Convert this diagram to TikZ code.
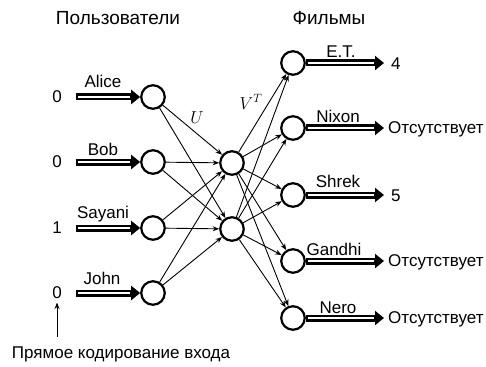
\documentclass[tikz,border=0pt]{standalone}
\usepackage{fontspec}
\setmainfont{Liberation Sans}
\usetikzlibrary{arrows.meta}
\begin{document}
\begin{tikzpicture}[x=1pt,y=-1pt,
  font=\fontsize{17}{19}\selectfont,
  neuron/.style={circle, draw, line width=2.2pt, minimum size=23.5pt, inner sep=0pt},
  conn/.style={line width=0.9pt, -{Stealth[length=6.5pt,width=5pt]}},
  dbl/.style={line width=7pt, -{Triangle[length=9pt,width=14pt]},
    postaction={draw=white, line width=2.2pt, arrows=-, shorten >=10pt, shorten <=2pt}},
  lbl/.style={anchor=base, inner sep=0pt},
  title/.style={font=\fontsize{19}{21}\selectfont},
  note/.style={font=\fontsize{17}{19}\selectfont}]
\useasboundingbox (0,0) rectangle (486,366);

% titles
\node[title] (t1) at (118,18) {Пользователи};
\node[title] (t2) at (329,18) {Фильмы};

% input neurons
\node[neuron] (in1) at (153,97) {};
\node[neuron] (in2) at (153,162) {};
\node[neuron] (in3) at (153,228) {};
\node[neuron] (in4) at (153,293) {};

% hidden neurons
\node[neuron] (h1) at (232,163) {};
\node[neuron] (h2) at (232,229) {};

% output neurons
\node[neuron] (o1) at (293,63) {};
\node[neuron] (o2) at (293,128) {};
\node[neuron] (o3) at (293,195) {};
\node[neuron] (o4) at (293,261) {};
\node[neuron] (o5) at (293,318) {};

% input values
\node (v1) at (57,97) {0};
\node (v2) at (57,162) {0};
\node (v3) at (57,228) {1};
\node (v4) at (57,293) {0};

% input double arrows
\foreach \i/\y in {1/97,2/162,3/228,4/293}{
  \coordinate (s\i) at (76,\y);
  \draw[dbl] (s\i) -- (in\i);
}
\node[lbl] (la) at (103,88) {Alice};
\node[lbl] (lb) at (103,155) {Bob};
\node[lbl] (ls) at (103,218) {Sayani};
\node[lbl] (lj) at (102,284) {John};

% connections
\foreach \i in {1,...,4}
  \foreach \j in {1,2}
    \draw[conn] (in\i) -- (h\j);
\foreach \j in {1,2}
  \foreach \k in {1,...,5}
    \draw[conn] (h\j) -- (o\k);

\node (U) at (197,118) {$U$};
\node (VT) at (251,102) {$V^T$};

% output double arrows
\foreach \k/\y in {1/63,2/128,3/195,4/261,5/318}{
  \coordinate (e\k) at (384,\y);
  \draw[dbl] (o\k) -- (e\k);
}
\node[lbl] (lo1) at (341,58) {E.T.};
\node[lbl] (lo2) at (338,123) {Nixon};
\node[lbl] (lo3) at (338,187) {Shrek};
\node[lbl] (lo4) at (334,255) {Gandhi};
\node[lbl] (lo5) at (338,313) {Nero};

% output values
\node[anchor=west, inner sep=1pt] (r1) at (390,64) {4};
\node[anchor=west, inner sep=1pt] (r2) at (387,129) {Отсутствует};
\node[anchor=west, inner sep=1pt] (r3) at (390,196) {5};
\node[anchor=west, inner sep=1pt] (r4) at (387,262) {Отсутствует};
\node[anchor=west, inner sep=1pt] (r5) at (387,319) {Отсутствует};

% bottom note
\node[note] (bt) at (121,354) {Прямое кодирование входа};
\coordinate (b0) at (57,337);
\draw[conn] (b0) -- (v4);
\end{tikzpicture}
\end{document}
